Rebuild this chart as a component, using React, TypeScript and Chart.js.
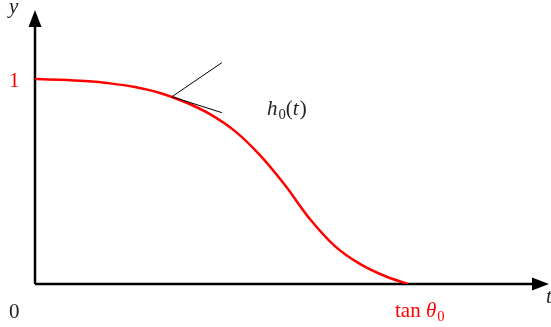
import React, { useEffect, useRef } from "react";
import { Chart, registerables } from "chart.js";

Chart.register(...registerables);

// h0(t) sampled along t, with tan(theta0) normalised to 1
const tValues = [0, 0.067, 0.134, 0.201, 0.268, 0.335, 0.402, 0.469, 0.536, 0.603, 0.67, 0.737, 0.804, 0.871, 0.938, 1.0];
const hValues = [1.0, 0.9966, 0.9902, 0.979, 0.961, 0.932, 0.888, 0.829, 0.746, 0.629, 0.483, 0.317, 0.185, 0.098, 0.039, 0];

// two short strokes pointing from the curve toward the label
const wedgeT = [0.367, 0.501];
const wedgeUpper = [0.914, 1.08];
const wedgeLower = [0.914, 0.836];

const tMax = 1.378;
const yMax = 1.337;
const tanTheta0 = 1;

const SERIF = "'Liberation Serif', 'DejaVu Serif', serif";

type Seg = { text: string; italic?: boolean; sub?: boolean };

function drawRich(ctx: CanvasRenderingContext2D, segs: Seg[], x: number, y: number, size: number, color: string) {
  ctx.save();
  ctx.fillStyle = color;
  ctx.textBaseline = "alphabetic";
  ctx.textAlign = "left";
  let cx = x;
  for (const s of segs) {
    const fs = s.sub ? size * 0.7 : size;
    ctx.font = `${s.italic ? "italic " : ""}${fs}px ${SERIF}`;
    ctx.fillText(s.text, cx, s.sub ? y + size * 0.2 : y);
    cx += ctx.measureText(s.text).width + (s.italic ? 1 : 0);
  }
  ctx.restore();
}

const axesPlugin = {
  id: "axesArrows",
  beforeDatasetsDraw(chart: any) {
    const { ctx, chartArea, scales } = chart;
    const ox = scales.x.getPixelForValue(0);
    const oy = scales.y.getPixelForValue(0);
    const right = chartArea.right;
    const top = chartArea.top;
    ctx.save();
    ctx.strokeStyle = "#000";
    ctx.fillStyle = "#000";
    ctx.lineWidth = 2.5;
    ctx.beginPath();
    ctx.moveTo(ox, oy);
    ctx.lineTo(right - 10, oy);
    ctx.moveTo(ox, oy);
    ctx.lineTo(ox, top + 10);
    ctx.stroke();
    // arrowheads
    ctx.beginPath();
    ctx.moveTo(right, oy);
    ctx.lineTo(right - 17, oy - 6.5);
    ctx.lineTo(right - 17, oy + 6.5);
    ctx.closePath();
    ctx.fill();
    ctx.beginPath();
    ctx.moveTo(ox, top);
    ctx.lineTo(ox - 6.5, top + 17);
    ctx.lineTo(ox + 6.5, top + 17);
    ctx.closePath();
    ctx.fill();
    ctx.restore();
  },
  afterDraw(chart: any) {
    const { ctx, chartArea, scales } = chart;
    const ox = scales.x.getPixelForValue(0);
    const oy = scales.y.getPixelForValue(0);
    const y1 = scales.y.getPixelForValue(1);
    const xt = scales.x.getPixelForValue(tanTheta0);
    const size = 21;
    drawRich(ctx, [{ text: "y", italic: true }], ox - 26, chartArea.top + 3, size, "#222");
    drawRich(ctx, [{ text: "1" }], ox - 26, y1 + 8, size, "#ff0000");
    drawRich(ctx, [{ text: "0" }], ox - 26, oy + 34, size, "#222");
    drawRich(ctx, [{ text: "tan " }, { text: "θ", italic: true }, { text: "0", sub: true }], xt - 13, oy + 33, size, "#ff0000");
    drawRich(ctx, [{ text: "t", italic: true }], chartArea.right - 3, oy + 19, size, "#222");
    drawRich(
      ctx,
      [{ text: "h", italic: true }, { text: "0", sub: true }, { text: "(" }, { text: "t", italic: true }, { text: ")" }],
      scales.x.getPixelForValue(0.622),
      scales.y.getPixelForValue(0.825),
      size,
      "#222"
    );
  },
};

export default function App() {
  const canvasRef = useRef<HTMLCanvasElement | null>(null);

  useEffect(() => {
    if (!canvasRef.current) return;
    const curve = tValues.map((t, i) => ({ x: t, y: hValues[i] }));
    const upper = wedgeT.map((t, i) => ({ x: t, y: wedgeUpper[i] }));
    const lower = wedgeT.map((t, i) => ({ x: t, y: wedgeLower[i] }));
    const chart = new Chart(canvasRef.current, {
      type: "scatter",
      data: {
        datasets: [
          { data: upper, showLine: true, borderColor: "#000", borderWidth: 1, pointRadius: 0 },
          { data: lower, showLine: true, borderColor: "#000", borderWidth: 1, pointRadius: 0 },
          {
            data: curve,
            showLine: true,
            borderColor: "#ff0000",
            borderWidth: 2.5,
            pointRadius: 0,
            cubicInterpolationMode: "monotone",
          },
        ],
      },
      options: {
        animation: false,
        responsive: false,
        layout: { padding: { left: 35, right: 2, top: 10, bottom: 43 } },
        plugins: { legend: { display: false }, tooltip: { enabled: false } },
        scales: {
          x: { type: "linear", min: 0, max: tMax, display: false },
          y: { type: "linear", min: 0, max: yMax, display: false },
        },
      },
      plugins: [axesPlugin],
    });
    return () => chart.destroy();
  }, []);

  return (
    <div style={{ position: "fixed", left: 0, top: 0, width: 551, height: 327, background: "#fff" }}>
      <canvas ref={canvasRef} width={551} height={327} style={{ width: 551, height: 327 }} />
    </div>
  );
}
